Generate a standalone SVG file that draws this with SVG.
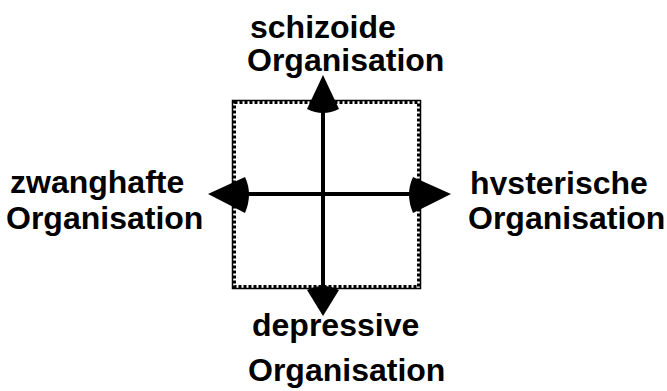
<svg xmlns="http://www.w3.org/2000/svg" width="667" height="391" viewBox="0 0 667 391">
<style>
text{font-family:"Liberation Sans",Arial,sans-serif;font-weight:bold;font-size:32px;fill:#000}
.ln{stroke:#000;stroke-width:4;fill:none}
.hd{fill:#000}
</style>
<defs>
<clipPath id="clipH"><rect x="460" y="160" width="207" height="35"/></clipPath>
</defs>
<rect width="667" height="391" fill="#fff"/>
<g id="frame">
<rect x="232.5" y="100.5" width="188" height="188" fill="none" stroke="#000" stroke-width="1.5"/>
<rect x="234.5" y="102.5" width="184" height="184" fill="none" stroke="#000" stroke-width="3" stroke-dasharray="3 2"/>
</g>
<g id="connectors">
<line class="ln" x1="323" y1="100" x2="323" y2="292"/>
<line class="ln" x1="240" y1="194" x2="414" y2="194"/>
<path class="hd" d="M323,75 L307,109 Q323,117 339,109 Z"/>
<path class="hd" d="M323,316 L307,290 Q323,282 339,290 Z"/>
<path class="hd" d="M208,194 L245,177 Q253,194 245,213 Z"/>
<path class="hd" d="M451,194 L413,177 Q405,194 413,213 Z"/>
</g>
<g id="schizoide">
<text x="250" y="38">schizoide</text>
<text x="247" y="71">Organisation</text>
</g>
<g id="zwanghafte">
<text x="10" y="193">zwanghafte</text>
<text x="6" y="229">Organisation</text>
</g>
<g id="hysterische">
<text x="470" y="194" clip-path="url(#clipH)">hysterische</text>
<text x="468" y="229">Organisation</text>
</g>
<g id="depressive">
<text x="252" y="336">depressive</text>
<text x="248" y="381">Organisation</text>
</g>
</svg>
